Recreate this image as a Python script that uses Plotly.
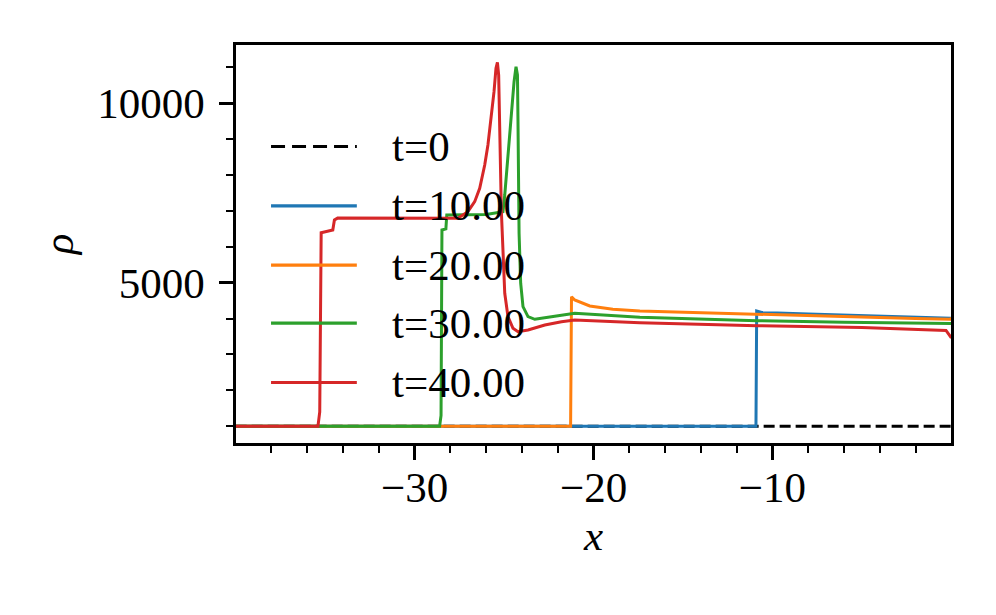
import plotly.graph_objects as go

# density profiles
labels = ['t=0', 't=10.00', 't=20.00', 't=30.00', 't=40.00']
colors = ['black', '#1f77b4', '#ff7f0e', '#2ca02c', '#d62728']

x_t0 = [-40, 0]
rho_t0 = [1000, 1000]

x_t10 = [-40, -10.92, -10.88, -10.6, -8, -5, -2, 0]
rho_t10 = [1000, 1000, 4210, 4170, 4130, 4090, 4045, 4010]

x_t20 = [-40, -21.28, -21.23, -21.05, -20.21, -18.92, -17.41, -14, -10.86,
         -6, -2, -0.06, 0]
rho_t20 = [1000, 1000, 4610, 4518, 4351, 4259, 4211, 4160, 4120,
           4060, 4000, 3980, 4020]

x_t30 = [-40, -28.6, -28.52, -28.47, -28.25, -28.2, -26, -25.06, -24.96,
         -24.78, -24.59, -24.44, -24.33, -24.25, -24.22, -24.19, -24.16,
         -24.07, -23.94, -23.66, -23.28, -22.35, -21.05, -17.41, -14,
         -10.86, -6, -0.06, 0]
rho_t30 = [1000, 1000, 1300, 6470, 6500, 6890, 6900, 6979, 7444,
           8559, 9766, 10602, 11020, 10789, 9487, 7631, 6377,
           4984, 4331, 4053, 3980, 4053, 4147, 4036, 3980,
           3941, 3900, 3869, 3860]

x_t40 = [-40, -35.4, -35.3, -35.22, -34.57, -34.48, -34.3, -30, -27.58,
         -27.02, -26.64, -26.36, -26.08, -25.90, -25.71, -25.56, -25.45,
         -25.37, -25.30, -25.24, -25.19, -25.15, -25.06, -24.96, -24.78,
         -24.50, -24.22, -23.66, -22.72, -21.79, -21.05, -17.41, -10.86,
         -5, -0.3, 0]
rho_t40 = [1000, 1000, 1400, 6394, 6470, 6750, 6800, 6800, 6795,
           6979, 7258, 7631, 8280, 8838, 9582, 10323, 10975,
           11143, 10789, 9487, 7631, 7000, 5912, 4705, 4053,
           3729, 3635, 3682, 3821, 3913, 3960, 3885, 3802,
           3750, 3670, 3460]

series = [(x_t0, rho_t0), (x_t10, rho_t10), (x_t20, rho_t20),
          (x_t30, rho_t30), (x_t40, rho_t40)]

FONT = 'Liberation Serif'
FS = 43

fig = go.Figure()
for i, (xs, ys) in enumerate(series):
    dash = '11px,5px' if i == 0 else 'solid'
    fig.add_trace(go.Scatter(x=xs, y=ys, mode='lines', name=labels[i],
                             line=dict(color=colors[i], width=3.0, dash=dash),
                             showlegend=False))

# legend drawn by hand so the line samples are as long as matplotlib's
leg_y = [0.745, 0.596, 0.447, 0.301, 0.152]
for i, lab in enumerate(labels):
    dash = '14px,7px' if i == 0 else 'solid'
    fig.add_shape(type='line', xref='paper', yref='paper',
                  x0=0.049, x1=0.169, y0=leg_y[i], y1=leg_y[i],
                  line=dict(color=colors[i], width=3.2, dash=dash))
    fig.add_annotation(text=lab, xref='paper', yref='paper',
                       x=0.215, y=leg_y[i], xanchor='left', yanchor='middle',
                       showarrow=False, font=dict(family=FONT, size=FS, color='black'))

axis_common = dict(
    ticks='outside', ticklen=14, tickwidth=2.5, tickcolor='black',
    showline=True, mirror=True, linewidth=2.5, linecolor='black',
    showgrid=False, zeroline=False, tickformat='d',
    tickfont=dict(family=FONT, size=FS, color='black'),
)

fig.update_xaxes(range=[-39.98, -0.02], tickmode='linear', tick0=0, dtick=10,
                 ticklabelstandoff=-9,
                 minor=dict(tickmode='linear', tick0=0, dtick=2, ticks='outside',
                            ticklen=7, tickwidth=2, tickcolor='black'),
                 title=dict(text='<i>x</i>', font=dict(family=FONT, size=FS), standoff=10),
                 **axis_common)
fig.update_yaxes(range=[532, 11625], tickmode='linear', tick0=0, dtick=5000,
                 ticklabelstandoff=6,
                 minor=dict(tickmode='linear', tick0=0, dtick=1000, ticks='outside',
                            ticklen=7, tickwidth=2, tickcolor='black'),
                 title=dict(text='<i>ρ</i>', font=dict(family=FONT, size=FS), standoff=11),
                 **axis_common)

# the page body adds an 8px offset, so margins are shifted to compensate
fig.update_layout(
    width=996, height=615,
    margin=dict(l=228, r=53, t=37, b=180),
    plot_bgcolor='white', paper_bgcolor='white',
    font=dict(family=FONT, color='black'),
)

fig.write_html("out.html")
